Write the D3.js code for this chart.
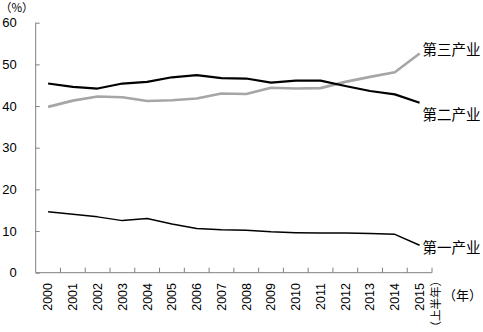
<!DOCTYPE html>
<html><head><meta charset="utf-8">
<script src="https://cdn.jsdelivr.net/npm/d3@7"></script>
<style>
html,body{margin:0;padding:0;background:#fff;}
svg{display:block;}
</style></head>
<body>
<svg id="c" width="483" height="332"></svg>
<script>
const years = ["2000","2001","2002","2003","2004","2005","2006","2007","2008","2009","2010","2011","2012","2013","2014","2015"];
const primary   = [14.6,14.0,13.4,12.5,13.0,11.7,10.6,10.3,10.2,9.8,9.6,9.5,9.5,9.4,9.2,6.6];
const secondary = [45.4,44.6,44.2,45.4,45.8,46.9,47.4,46.7,46.6,45.6,46.1,46.1,44.8,43.6,42.8,40.8];
const tertiary  = [39.8,41.3,42.3,42.1,41.2,41.4,41.8,43.0,42.9,44.4,44.2,44.3,45.8,47.0,48.1,52.6];
const yTicks = [0,10,20,30,40,50,60];
const seriesNames = ["第一产业","第二产业","第三产业"];

const svg = d3.select("#c");
const latin = "'Liberation Sans', Arial, sans-serif";
const cjk = "'Noto Sans CJK SC', sans-serif";

const x = d3.scaleBand().domain(years).range([35.7, 432]);
const y = d3.scaleLinear().domain([0, 60]).range([272.7, 22.7]);

// y axis
const yAxis = svg.append("g").attr("transform", "translate(35.7,0)")
  .call(d3.axisRight(y).tickValues(yTicks).tickSize(4).tickFormat(d3.format("d")));
yAxis.select(".domain").attr("stroke", "#808080").attr("d", `M0,${y(60)}V${y(0)}`);
yAxis.selectAll(".tick line").attr("stroke", "#808080");
yAxis.selectAll(".tick text").attr("x", -19).attr("text-anchor", "end")
  .attr("font-family", latin).attr("font-size", 13).attr("fill", "#000");

// x axis
const xAxis = svg.append("g").attr("transform", `translate(0,${y(0)})`)
  .call(d3.axisTop(x).tickValues([]).tickSizeOuter(0));
xAxis.select(".domain").attr("stroke", "#808080").attr("d", `M35.7,0H432`);
xAxis.selectAll(".bt").data(years).enter().append("line")
  .attr("x1", (d, i) => 35.7 + (i + 1) * x.step()).attr("x2", (d, i) => 35.7 + (i + 1) * x.step())
  .attr("y1", 0).attr("y2", -5).attr("stroke", "#808080");

// year labels
const yl = svg.append("g");
years.forEach((yr, i) => {
  const cx = x(yr) + x.bandwidth() / 2;
  yl.append("text").attr("transform", `translate(${cx},283) rotate(-90)`)
    .attr("text-anchor", "end").attr("dy", "0.35em")
    .attr("font-family", latin).attr("font-size", 12.5).attr("fill", "#000").text(yr);
  if (yr === "2015") {
    yl.append("text").attr("transform", `translate(${cx + 16},275) rotate(-90)`)
      .attr("text-anchor", "end").attr("dy", "0.35em")
      .attr("font-family", cjk).attr("font-size", 11.5).attr("fill", "#000").text("（上半年）");
  }
});

// unit labels
svg.append("text").attr("x", 0).attr("y", 12).attr("font-family", cjk).attr("font-size", 11.5).attr("fill", "#000").text("（%）");
svg.append("text").attr("x", 443).attr("y", 300).attr("font-family", cjk).attr("font-size", 13).attr("fill", "#000").text("（年）");

// lines
const line = d3.line().x((d, i) => x(years[i]) + x.bandwidth() / 2).y(d => y(d));
svg.append("path").datum(tertiary).attr("d", line).attr("fill", "none").attr("stroke", "#a6a6a6").attr("stroke-width", 2.6).attr("stroke-linejoin", "round");
svg.append("path").datum(secondary).attr("d", line).attr("fill", "none").attr("stroke", "#000").attr("stroke-width", 2.2).attr("stroke-linejoin", "round");
svg.append("path").datum(primary).attr("d", line).attr("fill", "none").attr("stroke", "#000").attr("stroke-width", 1.5).attr("stroke-linejoin", "round");

// series labels
const labelY = [248, 115, 50];
seriesNames.forEach((n, i) => {
  svg.append("text").attr("x", 422.5).attr("y", labelY[i]).attr("dy", "0.35em")
    .attr("font-family", cjk).attr("font-size", 14.5).attr("fill", "#000").text(n);
});
</script>
</body></html>
